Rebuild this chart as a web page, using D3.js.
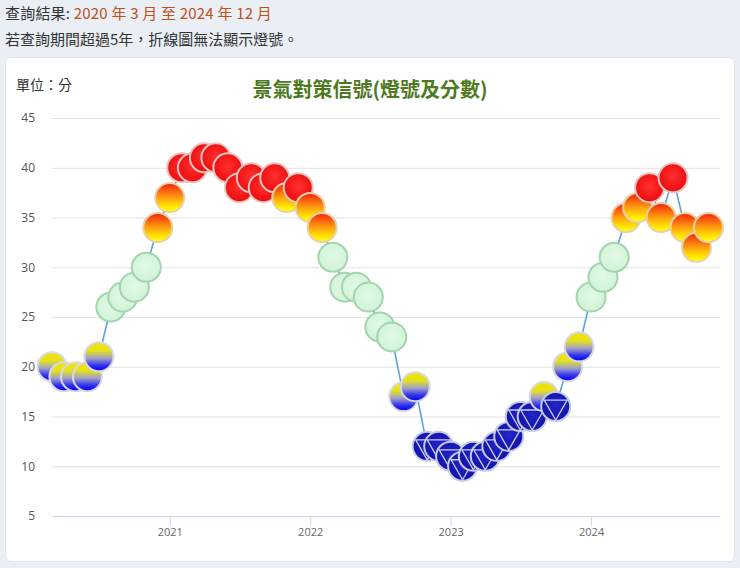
<!DOCTYPE html>
<html>
<head>
<meta charset="utf-8">
<script src="https://cdn.jsdelivr.net/npm/d3@7"></script>
<style>
  body { margin: 0; background: #e9eff5; font-family: "Noto Sans CJK TC", "Noto Sans", sans-serif; }
  #head1 { position: absolute; left: 5px; top: 2px; font-size: 15px; color: #333; letter-spacing: 0.2px; }
  #head1 span { color: #c0501a; }
  #head2 { position: absolute; left: 5px; top: 28px; font-size: 15px; color: #333; }
  #card { position: absolute; left: 5px; top: 57px; width: 730px; height: 505px; background: #fff;
          border-radius: 6px; border: 1px solid #dfe5ec; box-sizing: border-box; }
  svg { position: absolute; left: 0; top: 0; }
</style>
</head>
<body>
<div id="head1">查詢結果: <span>2020 年 3 月 至 2024 年 12 月</span></div>
<div id="head2">若查詢期間超過5年，折線圖無法顯示燈號。</div>
<div id="card"></div>
<svg id="chart" width="740" height="568"></svg>
<script>
// monthly scores, Mar 2020 - Nov 2024
var startMonth = "2020-03";
var scores2020 = [20, 19, 19, 19, 21, 26, 27, 28, 30, 34];
var scores2021 = [37, 40, 40, 41, 41, 40, 38, 39, 38, 39, 37, 38];
var scores2022 = [36, 34, 31, 28, 28, 27, 24, 23, 17, 18, 12, 12];
var scores2023 = [11, 10, 11, 11, 12, 13, 15, 15, 17, 16, 20, 22];
var scores2024 = [27, 29, 31, 35, 36, 38, 35, 39, 34, 32, 34];
var yTicks = [5, 10, 15, 20, 25, 30, 35, 40, 45];
var yearTicks = ["2021", "2022", "2023", "2024"];

var parse = d3.timeParse("%Y-%m");
var allScores = scores2020.concat(scores2021, scores2022, scores2023, scores2024);
var data = allScores.map(function(v, i) {
  return { date: d3.timeMonth.offset(parse(startMonth), i), value: v };
});

// light for a score
function light(v) {
  if (v >= 38) return "red";
  if (v >= 32) return "yr";
  if (v >= 23) return "green";
  if (v >= 17) return "yb";
  return "blue";
}

var svg = d3.select("#chart");
var plotL = 52, plotR = 720, plotT = 118, plotB = 516;

var x = d3.scaleTime()
  .domain([parse("2020-03"), parse("2024-12")])
  .range([plotL, plotR]);
var y = d3.scaleLinear().domain([5, 45]).range([plotB, plotT]);

var defs = svg.append("defs");
function grad(id, stops) {
  var g = defs.append("linearGradient").attr("id", id)
    .attr("x1", 0).attr("y1", 0).attr("x2", 0).attr("y2", 1);
  stops.forEach(function(s) {
    g.append("stop").attr("offset", s[0]).attr("stop-color", s[1]);
  });
}
grad("g-yr", [[0, "#f4200c"], [0.5, "#ffa010"], [0.85, "#ffee00"], [1, "#ffff20"]]);
grad("g-yb", [[0, "#f2e600"], [0.3, "#e4e020"], [0.55, "#a0a0c8"], [0.8, "#3030f0"], [1, "#0000e8"]]);
function radial(id, stops) {
  var g = defs.append("radialGradient").attr("id", id)
    .attr("cx", 0.5).attr("cy", 0.45).attr("r", 0.6);
  stops.forEach(function(s) {
    g.append("stop").attr("offset", s[0]).attr("stop-color", s[1]);
  });
}
radial("g-red", [[0, "#ff3030"], [0.8, "#f01010"], [1, "#c80000"]]);
radial("g-blue", [[0, "#2424c8"], [1, "#1010a8"]]);
radial("g-green", [[0, "#e2faE6"], [0.8, "#d2f4da"], [1, "#bfe8c8"]]);

var style = {
  red:   { fill: "url(#g-red)", stroke: "#e8c4c0" },
  yr:    { fill: "url(#g-yr)", stroke: "#e8d0a8" },
  green: { fill: "url(#g-green)", stroke: "#a4d4ac" },
  yb:    { fill: "url(#g-yb)", stroke: "#d8d8e8" },
  blue:  { fill: "url(#g-blue)", stroke: "#c4cce4" }
};

// title and unit
svg.append("text").attr("x", 370).attr("y", 97).attr("text-anchor", "middle")
  .attr("font-size", 20).attr("font-weight", "bold").attr("fill", "#4d7a1e")
  .text("景氣對策信號(燈號及分數)");
svg.append("text").attr("x", 16).attr("y", 90)
  .attr("font-size", 14).attr("fill", "#333").text("單位：分");

// grid + y labels
var yAxis = svg.append("g").attr("transform", "translate(" + plotL + ",0)")
  .call(d3.axisLeft(y).tickValues(yTicks).tickSize(-(plotR - plotL)).tickPadding(17));
yAxis.select(".domain").remove();
yAxis.selectAll(".tick line").attr("stroke", "#e2e2e2").attr("stroke-width", 1);
yAxis.selectAll(".tick text").attr("fill", "#555").attr("font-size", 12)
  .attr("font-family", "'Open Sans', sans-serif");
yAxis.selectAll(".tick").filter(function(d) { return d === 5; }).select("line").remove();

// x axis
var xAxis = svg.append("g").attr("transform", "translate(0," + plotB + ")")
  .call(d3.axisBottom(x)
    .tickValues(yearTicks.map(function(t) { return d3.timeParse("%Y")(t); }))
    .tickFormat(d3.timeFormat("%Y")).tickSize(10).tickSizeOuter(0).tickPadding(2));
xAxis.select(".domain").attr("stroke", "#ccd6eb");
xAxis.selectAll(".tick line").attr("stroke", "#ccd6eb");
xAxis.selectAll(".tick text").attr("fill", "#666").attr("font-size", 11)
  .attr("font-family", "'Open Sans', sans-serif");

// line
svg.append("path").datum(data)
  .attr("fill", "none").attr("stroke", "#5aa2dc").attr("stroke-width", 1.6)
  .attr("d", d3.line().x(function(d) { return x(d.date); }).y(function(d) { return y(d.value); }));

// markers
var r = 14.5;
var pts = svg.append("g").selectAll("g").data(data).enter().append("g")
  .attr("transform", function(d) { return "translate(" + x(d.date) + "," + y(d.value) + ")"; });
pts.append("circle").attr("r", r)
  .attr("fill", function(d) { return style[light(d.value)].fill; })
  .attr("stroke", function(d) { return style[light(d.value)].stroke; })
  .attr("stroke-width", 2);
pts.filter(function(d) { return light(d.value) === "blue"; })
  .append("path")
  .attr("d", "M-11.5,-6.5L11.5,-6.5L0,13.5Z")
  .attr("fill", "none").attr("stroke", "#c8d0f0").attr("stroke-width", 1.3);
</script>
</body>
</html>
